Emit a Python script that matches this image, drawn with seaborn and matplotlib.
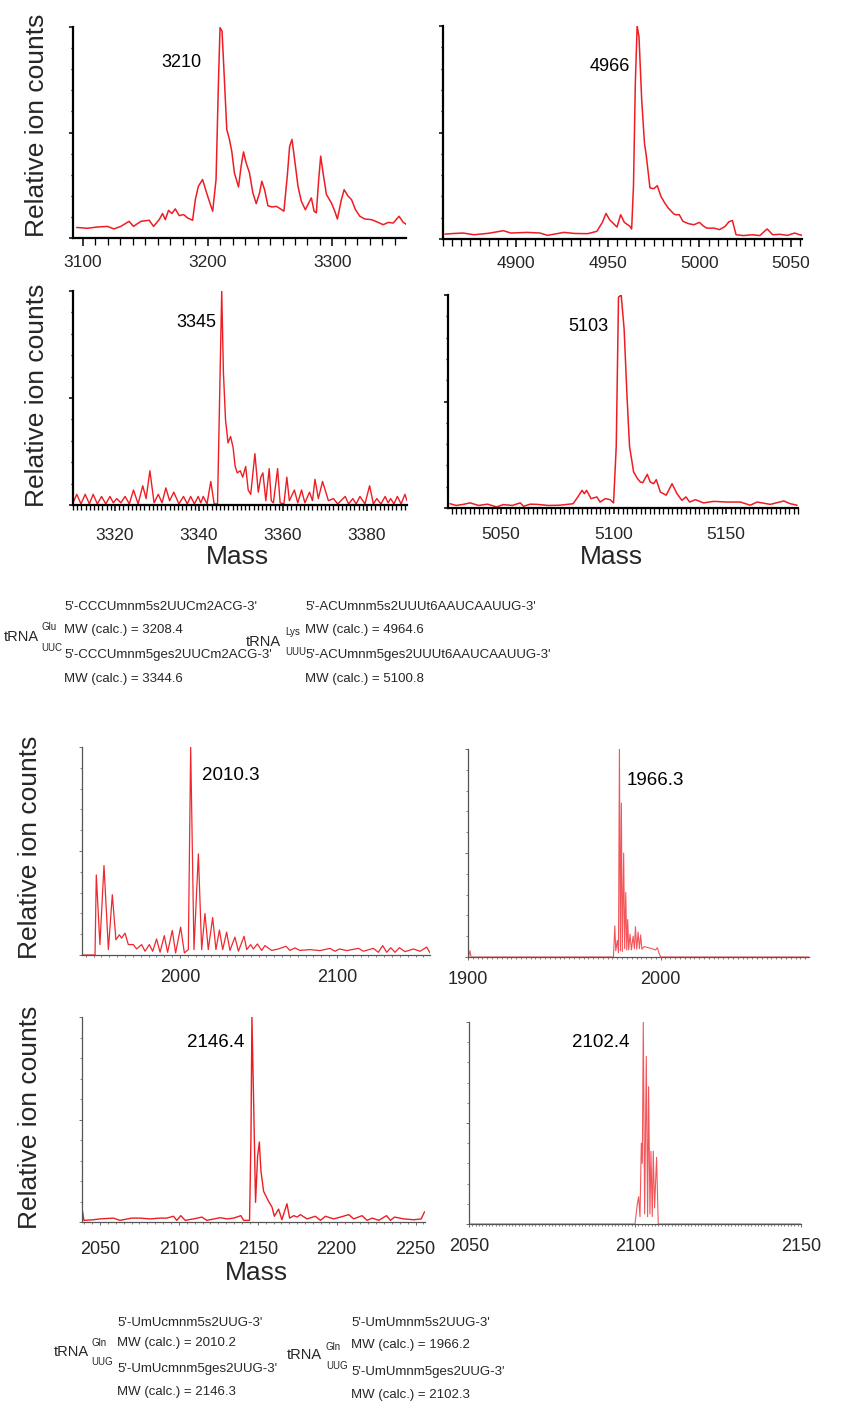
import numpy as np
import pandas as pd
import matplotlib
matplotlib.use("Agg")
import matplotlib.pyplot as plt
import seaborn as sns
from matplotlib.ticker import MultipleLocator, FixedLocator
from matplotlib import font_manager

# ---------------- data ----------------
# Panel A: tRNA-Glu  (3208 region)
glu1_mass = [3094.9, 3103.5, 3111.5, 3119.6, 3124.9, 3130.3, 3137.0, 3140.5, 3146.4, 3153.1, 3156.6, 3161.1,
             3163.8, 3166.0, 3168.6, 3171.3, 3174.0, 3177.2, 3180.7, 3183.9, 3187.9, 3190.1, 3192.5, 3195.9,
             3198.7, 3201.3, 3204.0, 3206.7, 3208.6, 3209.9, 3211.5, 3213.4, 3215.3, 3217.4, 3219.3, 3221.4,
             3224.7, 3226.8, 3228.7, 3230.8, 3233.5, 3236.2, 3238.9, 3241.6, 3243.4, 3245.6, 3248.3, 3251.5,
             3255.0, 3258.4, 3261.1, 3263.8, 3265.7, 3267.6, 3269.7, 3272.4, 3275.1, 3278.3, 3281.0, 3283.1,
             3285.3, 3287.1, 3289.0, 3290.6, 3292.5, 3295.2, 3299.2, 3301.9, 3304.0, 3307.2, 3309.4, 3312.6,
             3315.3, 3318.5, 3322.0, 3326.0, 3331.4, 3336.7, 3340.7, 3344.8, 3348.8, 3353.4, 3356.8, 3360.9]
glu1_int = [0.05, 0.046, 0.052, 0.055, 0.043, 0.055, 0.079, 0.055, 0.079, 0.084, 0.055, 0.087,
            0.116, 0.087, 0.131, 0.116, 0.138, 0.106, 0.111, 0.095, 0.084, 0.182, 0.245, 0.277,
            0.222, 0.174, 0.127, 0.277, 0.736, 0.997, 0.98, 0.75, 0.514, 0.468, 0.411, 0.309,
            0.242, 0.34, 0.408, 0.356, 0.309, 0.214, 0.163, 0.214, 0.269, 0.229, 0.153, 0.147,
            0.15, 0.138, 0.127, 0.293, 0.435, 0.467, 0.372, 0.245, 0.174, 0.134, 0.166, 0.19,
            0.127, 0.119, 0.277, 0.388, 0.309, 0.206, 0.166, 0.127, 0.09, 0.182, 0.229, 0.198,
            0.182, 0.134, 0.103, 0.09, 0.087, 0.074, 0.063, 0.074, 0.071, 0.103, 0.074, 0.058]

# Panel B: tRNA-Lys (4964 region)
lys1_mass = [4861, 4866, 4871, 4877, 4885, 4893, 4897, 4906, 4913, 4917, 4926, 4932, 4939, 4944, 4947, 4949,
             4951, 4955, 4957, 4959, 4962, 4963, 4964, 4965, 4966, 4967, 4968.5, 4970, 4971, 4973, 4975,
             4977, 4979, 4981, 4983, 4986, 4987, 4989, 4991, 4994, 4997, 5000, 5002, 5004, 5008, 5011,
             5014, 5016, 5018, 5020, 5024, 5029, 5033, 5036, 5037, 5040, 5044, 5048, 5052, 5054, 5056]
lys1_int = [0.023, 0.026, 0.028, 0.02, 0.027, 0.039, 0.028, 0.031, 0.028, 0.017, 0.031, 0.026, 0.025, 0.036,
            0.078, 0.12, 0.09, 0.056, 0.114, 0.078, 0.06, 0.047, 0.25, 0.73, 1.0, 0.95, 0.65, 0.45, 0.39,
            0.24, 0.236, 0.25, 0.20, 0.17, 0.145, 0.118, 0.114, 0.114, 0.083, 0.072, 0.067, 0.078, 0.062,
            0.051, 0.051, 0.044, 0.059, 0.08, 0.087, 0.02, 0.016, 0.02, 0.016, 0.04, 0.047, 0.02, 0.022,
            0.017, 0.028, 0.022, 0.017]

# Panel C: tRNA-Glu (3344 region)
glu2_mass = [3310.0, 3310.9, 3311.9, 3312.9, 3313.9, 3314.8, 3315.8, 3316.8, 3317.8, 3318.8, 3319.6, 3320.4,
             3321.4, 3322.4, 3323.4, 3324.4, 3325.5, 3326.6, 3327.4, 3328.3, 3329.3, 3330.3, 3331.2, 3332.1,
             3333.0, 3334.0, 3335.2, 3336.3, 3337.2, 3338.0, 3338.9, 3339.8, 3340.4, 3341.0, 3341.9, 3342.8,
             3343.6, 3344.4, 3344.8, 3345.4, 3345.8, 3346.3, 3346.9, 3347.5, 3348.1, 3348.6, 3349.1, 3349.8,
             3350.4, 3351.1, 3351.7, 3352.3, 3353.3, 3354.1, 3354.7, 3355.2, 3355.9, 3356.7, 3357.2, 3357.7,
             3358.7, 3359.3, 3360.2, 3360.9, 3361.5, 3362.7, 3363.5, 3364.4, 3365.2, 3366.3, 3367.0, 3367.6,
             3368.4, 3369.4, 3370.8, 3372.0, 3373.0, 3374.8, 3375.6, 3376.6, 3377.4, 3378.3, 3379.5, 3380.6,
             3381.5, 3382.3, 3383.3, 3384.3, 3385.0, 3385.6, 3386.4, 3387.2, 3388.1, 3389.0, 3389.5]
glu2_int = [0.01, 0.05, 0.005, 0.05, 0.005, 0.05, 0.005, 0.04, 0.005, 0.04, 0.01, 0.03,
            0.01, 0.04, 0.005, 0.07, 0.005, 0.09, 0.03, 0.16, 0.01, 0.05, 0.01, 0.08,
            0.02, 0.06, 0.005, 0.04, 0.005, 0.04, 0.005, 0.04, 0.01, 0.04, 0.005, 0.11,
            0.005, 0.005, 0.40, 1.0, 0.62, 0.40, 0.29, 0.32, 0.27, 0.18, 0.15, 0.16,
            0.13, 0.18, 0.07, 0.05, 0.24, 0.06, 0.13, 0.15, 0.02, 0.17, 0.02, 0.01,
            0.17, 0.01, 0.005, 0.13, 0.02, 0.07, 0.01, 0.07, 0.01, 0.06, 0.02, 0.12,
            0.03, 0.11, 0.02, 0.03, 0.005, 0.04, 0.005, 0.03, 0.005, 0.04, 0.005, 0.09,
            0.005, 0.03, 0.005, 0.04, 0.01, 0.03, 0.005, 0.04, 0.005, 0.05, 0.02]

# Panel D: tRNA-Lys (5100 region)
lys2_mass = [5027.3, 5030.0, 5033.2, 5036.2, 5040.0, 5044.0, 5048, 5051, 5055, 5058.5, 5060, 5063, 5066, 5071,
             5076, 5082, 5084, 5086, 5087, 5088, 5090, 5092.6, 5094, 5096.3, 5098.5, 5100, 5101.2, 5102.2,
             5103.4, 5104.7, 5106, 5107.1, 5108.9, 5110.5, 5111.9, 5113, 5115, 5116.3, 5117.8, 5119, 5120.8,
             5123.4, 5126, 5128.2, 5130.4, 5132.2, 5133.8, 5136.4, 5140, 5144.5, 5150.4, 5156.4, 5160.8,
             5163.8, 5169.7, 5175.7, 5178.6, 5181.6]
lys2_int = [0.02, 0.012, 0.017, 0.024, 0.012, 0.018, 0.005, 0.016, 0.012, 0.024, 0.008, 0.018, 0.017, 0.012,
            0.013, 0.02, 0.05, 0.083, 0.067, 0.083, 0.044, 0.052, 0.028, 0.044, 0.039, 0.024, 0.29, 0.99,
            1.0, 0.84, 0.52, 0.29, 0.17, 0.14, 0.122, 0.119, 0.158, 0.122, 0.114, 0.133, 0.075,
            0.06, 0.114, 0.067, 0.036, 0.052, 0.028, 0.039, 0.024, 0.031, 0.028, 0.028, 0.013,
            0.028, 0.017, 0.033, 0.02, 0.013]

# Panel E: tRNA-Gln (2010 region)
gln1_mass = [1938, 1945.9, 1946.7, 1949, 1951.6, 1954.4, 1956.9, 1959.2, 1961.4, 1962.8, 1965, 1967.1,
             1970.3, 1972.4, 1975.6, 1977.7, 1980.5, 1982.6, 1985.1, 1987.3, 1990, 1992.1, 1995.1, 1997.2,
             2000.4, 2002.8, 2005.3, 2006.8, 2008.9, 2011.7, 2013.8, 2015.9, 2018, 2020.8, 2022.9, 2025.1,
             2027.2, 2029.7, 2031.8, 2035, 2037.2, 2040.8, 2042.5, 2045, 2046.7, 2049.3, 2052, 2054.1,
             2058.4, 2062.6, 2067.5, 2070, 2073.2, 2076.4, 2082.8, 2089.2, 2095.5, 2098.7, 2101.5, 2106.2,
             2113.6, 2116.8, 2123.1, 2126.3, 2129.1, 2131.6, 2134.2, 2136.9, 2139.7, 2143.3, 2148.6, 2152.9,
             2157.1, 2159.2]
gln1_int = [0.0, 0.0, 0.385, 0.05, 0.43, 0.026, 0.29, 0.073, 0.097, 0.081, 0.105, 0.05,
            0.05, 0.029, 0.05, 0.018, 0.05, 0.018, 0.077, 0.013, 0.093, 0.013, 0.118, 0.01,
            0.134, 0.01, 0.026, 1.0, 0.026, 0.486, 0.026, 0.2, 0.026, 0.18, 0.026, 0.12,
            0.026, 0.11, 0.022, 0.086, 0.018, 0.09, 0.026, 0.05, 0.029, 0.053, 0.022, 0.045,
            0.022, 0.029, 0.042, 0.022, 0.034, 0.022, 0.026, 0.021, 0.032, 0.018, 0.029, 0.021,
            0.032, 0.018, 0.032, 0.013, 0.045, 0.013, 0.035, 0.013, 0.035, 0.016, 0.029, 0.018,
            0.038, 0.01]

# Panel F: tRNA-Gln (1966 region)
gln2_mass = [1900.3, 1901.0, 1901.6, 1975.5, 1976.2, 1976.7, 1977.5, 1978.1, 1978.6, 1979.1, 1979.6, 1980.1,
             1980.8, 1981.3, 1981.9, 1982.4, 1982.9, 1983.4, 1984.1, 1984.8, 1985.7, 1986.4, 1986.9, 1987.6,
             1988.3, 1989.0, 1989.6, 1990.3, 1991.4, 1994.8, 1997.4, 1998.3, 1999.1, 2000.0, 2077.0]
gln2_int = [0.0, 0.03, 0.0, 0.0, 0.15, 0.03, 0.08, 0.02, 1.0, 0.03, 0.74, 0.026,
            0.5, 0.04, 0.31, 0.034, 0.18, 0.034, 0.11, 0.034, 0.1, 0.04, 0.146, 0.037,
            0.12, 0.04, 0.106, 0.037, 0.05, 0.042, 0.034, 0.045, 0.02, 0.0, 0.0]

# Panel G: tRNA-Gln (2146 region)
gln3_mass = [2039, 2039.8, 2045.8, 2050, 2058.5, 2062.7, 2070.1, 2075.4, 2081.7, 2088.1, 2092.3, 2096.6,
             2098.7, 2101.2, 2104, 2109.3, 2114.6, 2117.7, 2126.2, 2130.4, 2134.7, 2139.3, 2141, 2144.8,
             2145.7, 2146.3, 2147.4, 2148.6, 2149.9, 2151, 2152, 2153.7, 2156.9, 2159, 2160.5, 2163.2,
             2165.3, 2168.5, 2170.2, 2172.8, 2174.9, 2177, 2181.2, 2186.5, 2189.7, 2192.9, 2198.1, 2202.4,
             2207.7, 2210.8, 2216.1, 2219.3, 2222.5, 2226.7, 2231.6, 2234.1, 2236.7, 2242.6, 2249, 2253.6,
             2255.7]
gln3_int = [0.05, 0.008, 0.011, 0.015, 0.019, 0.008, 0.019, 0.019, 0.015, 0.019, 0.019, 0.028,
            0.008, 0.031, 0.008, 0.015, 0.024, 0.008, 0.021, 0.015, 0.019, 0.031, 0.008, 0.008,
            0.42, 1.0, 0.58, 0.096, 0.32, 0.39, 0.25, 0.15, 0.10, 0.073, 0.028, 0.063,
            0.011, 0.089, 0.019, 0.031, 0.024, 0.036, 0.015, 0.028, 0.008, 0.028, 0.015, 0.024,
            0.036, 0.015, 0.031, 0.008, 0.019, 0.008, 0.031, 0.008, 0.024, 0.015, 0.011, 0.015,
            0.05]

# Panel H: tRNA-Gln (2102 region)
gln4_mass = [2050.2, 2100.0, 2100.7, 2101.1, 2101.5, 2101.9, 2102.2, 2102.5, 2102.9, 2103.4, 2103.8, 2104.1,
             2104.5, 2104.8, 2105.2, 2105.5, 2105.9, 2106.5, 2107.0, 2150.0]
gln4_int = [0.0, 0.0, 0.1, 0.135, 0.036, 0.4, 0.3, 1.0, 0.05, 0.83, 0.036, 0.68,
            0.05, 0.36, 0.036, 0.36, 0.08, 0.33, 0.0, 0.0]

peak_labels = ["3210", "4966", "3345", "5103", "2010.3", "1966.3", "2146.4", "2102.4"]

glu_lines = ["5'-CCCUmnm5s2UUCm2ACG-3'", "MW (calc.) = 3208.4",
             "5'-CCCUmnm5ges2UUCm2ACG-3'", "MW (calc.) = 3344.6"]
lys_lines = ["5'-ACUmnm5s2UUUt6AAUCAAUUG-3'", "MW (calc.) = 4964.6",
             "5'-ACUmnm5ges2UUUt6AAUCAAUUG-3'", "MW (calc.) = 5100.8"]
gln_a_lines = ["5'-UmUcmnm5s2UUG-3'", "MW (calc.) = 2010.2",
               "5'-UmUcmnm5ges2UUG-3'", "MW (calc.) = 2146.3"]
gln_b_lines = ["5'-UmUmnm5s2UUG-3'", "MW (calc.) = 1966.2",
               "5'-UmUmnm5ges2UUG-3'", "MW (calc.) = 2102.3"]

# ---------------- style ----------------
sns.set_style("ticks")
plt.rcParams['font.family'] = ['Liberation Sans', 'DejaVu Sans']
names = {f.name for f in font_manager.fontManager.ttflist}
if 'Liberation Sans Narrow' in names:
    NARROW, nscale = ['Liberation Sans Narrow', 'DejaVu Sans'], 1.13
else:
    NARROW, nscale = ['Liberation Sans', 'DejaVu Sans'], 1.0

RED = '#ee1d23'
W, H = 860, 1408
fig = plt.figure(figsize=(W / 100, H / 100), dpi=100)


def px_axes(l, r, t, b):
    return fig.add_axes([l / W, 1 - b / H, (r - l) / W, (b - t) / H])


def draw(ax, mass, inten, lw, alpha):
    df = pd.DataFrame({'Mass': mass, 'Intensity': inten})
    sns.lineplot(data=df, x='Mass', y='Intensity', ax=ax, color=RED, lw=lw, alpha=alpha,
                 estimator=None, sort=False)
    ax.set_xlabel('')
    ax.set_ylabel('')


def style(ax, xlim, major, minor, top, xlen, xminlen, pad, fs):
    ax.set_xlim(*xlim)
    ax.set_ylim(0, 1.0)
    for s in ['top', 'right']:
        ax.spines[s].set_visible(False)
    col = 'black' if top else '#555555'
    lw = 1.6 if top else 0.9
    for s in ['left', 'bottom']:
        ax.spines[s].set_linewidth(lw)
        ax.spines[s].set_color(col)
    ax.xaxis.set_major_locator(MultipleLocator(major))
    ax.xaxis.set_minor_locator(MultipleLocator(minor))
    ax.yaxis.set_major_locator(FixedLocator([0, 0.5, 1.0]))
    ax.yaxis.set_minor_locator(MultipleLocator(0.1))
    tw = 1.1 if top else 0.6
    ax.tick_params(axis='x', which='major', length=xlen, width=tw, pad=pad, labelsize=fs,
                   color=col, direction='out')
    ax.tick_params(axis='x', which='minor', length=xminlen, width=tw * 0.85, color=col)
    ax.tick_params(axis='y', which='major', length=3.2 if top else 2.5, width=tw,
                   labelleft=False, color=col)
    ax.tick_params(axis='y', which='minor', length=1.8 if top else 1.4, width=tw * 0.85, color=col)
    ax.grid(False)


panels = [
    # mass, int, (l, r, t, b), xlim, major, minor, top, xlen, xminlen, pad, fs, label_xy, lw, alpha
    (glu1_mass, glu1_int, (73, 406, 27, 238), (3092, 3359), 100, 10, True, 6, 5, 6.5, 12.5, (3179, 0.83), 1.1, 1.0),
    (lys1_mass, lys1_int, (443, 802, 26, 239), (4860, 5056), 50, 5, True, 6, 5, 6.5, 12.5, (4951, 0.81), 1.1, 1.0),
    (glu2_mass, glu2_int, (73, 407, 291, 505), (3310, 3389.5), 20, 1, True, 4, 3.5, 12.5, 12.5, (3339.3, 0.855), 1.0, 1.0),
    (lys2_mass, lys2_int, (448, 798, 295, 508), (5026.4, 5182), 50, 2, True, 4.5, 4, 9.5, 12.5, (5088.6, 0.85), 1.1, 1.0),
    (gln1_mass, gln1_int, (82, 430, 747, 955), (1937.6, 2159.2), 100, 5, False, 2, 1.5, 8, 13, (2032.4, 0.865), 0.9, 0.95),
    (gln2_mass, gln2_int, (468, 809, 749, 957), (1900, 2077), 100, 2.5, False, 2, 1.5, 8, 13, (1997.1, 0.85), 0.8, 0.75),
    (gln3_mass, gln3_int, (82, 425, 1017, 1222), (2038.6, 2256), 50, 5, False, 2, 1.5, 12, 13, (2123.5, 0.878), 1.0, 1.0),
    (gln4_mass, gln4_int, (469, 801, 1022, 1224), (2050, 2150), 50, 1, False, 2, 1.2, 8, 13, (2089.6, 0.90), 0.8, 0.75),
]

for i, (m, it, box, xlim, major, minor, top, xlen, xminlen, pad, fs, lab, lw, alpha) in enumerate(panels):
    ax = px_axes(*box)
    draw(ax, m, it, lw, alpha)
    style(ax, xlim, major, minor, top, xlen, xminlen, pad, fs)
    ax.text(lab[0], lab[1], peak_labels[i], fontsize=13 if top else 13.5, ha='center', va='center',
            color='black')

# axis titles
for (x, y) in [(37, 125), (37, 395), (30, 847), (30, 1117)]:
    fig.text(x / W, 1 - y / H, 'Relative ion counts', rotation=90, ha='center', va='center', fontsize=19)
for (x, y) in [(237, 557), (611, 557), (256, 1273)]:
    fig.text(x / W, 1 - y / H, 'Mass', ha='center', va='center', fontsize=19)


# sequence annotations
def block(xt, yt, sup, xs, ysup, sub, ysub, xl, ys, lines):
    fig.text(xt / W, 1 - yt / H, 'tRNA', fontsize=10.5 * nscale, family=NARROW, ha='left', va='center')
    fig.text(xs / W, 1 - ysup / H, sup, fontsize=7 * nscale, family=NARROW, ha='left', va='center')
    fig.text(xs / W, 1 - ysub / H, sub, fontsize=7 * nscale, family=NARROW, ha='left', va='center')
    for y, s in zip(ys, lines):
        fig.text(xl / W, 1 - y / H, s, fontsize=9.5 * nscale, family=NARROW, ha='left', va='center')


block(4, 637, 'Glu', 41, 627, 'UUC', 648, 64, [607, 630, 655, 679], glu_lines)
block(246, 642, 'Lys', 285, 632, 'UUU', 652, 305, [607, 630, 655, 679], lys_lines)
block(54, 1352, 'Gln', 91, 1343, 'UUG', 1362, 117, [1323, 1343, 1369, 1392], gln_a_lines)
block(287, 1355, 'Gln', 326, 1347, 'UUG', 1366, 351, [1323, 1345, 1372, 1395], gln_b_lines)

fig.savefig('out.png', dpi=100)
